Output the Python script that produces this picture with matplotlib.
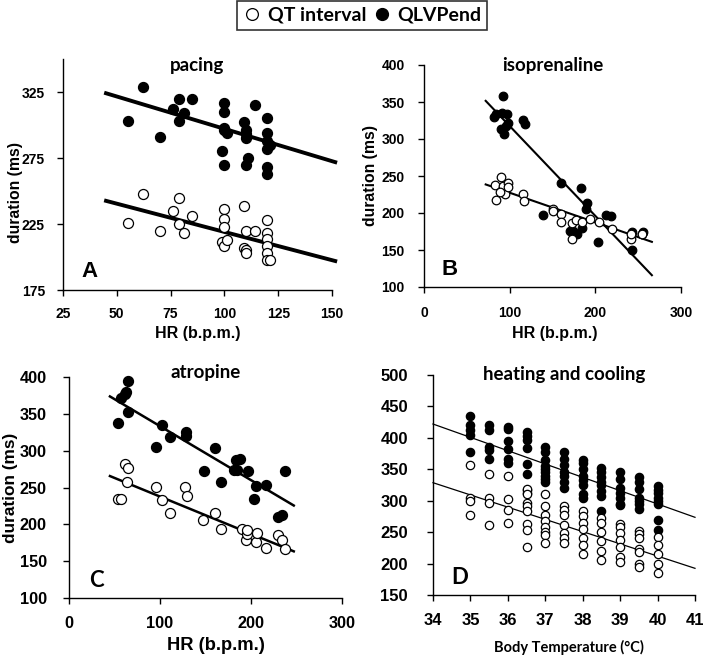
import matplotlib.pyplot as plt
from matplotlib.lines import Line2D
import numpy as np

# ------------------------------------------------------------------
# Data
# ------------------------------------------------------------------

# A: pacing
a_qlv_hr = [55, 62, 70, 76, 79, 81, 79, 85, 100, 100, 100, 101, 99, 100, 100,
            114, 109, 110, 110, 111, 110, 110, 120, 120, 120, 120, 121, 120, 120]
a_qlv_dur = [303, 329, 291, 312, 320, 309, 303, 320, 317, 310, 298, 294, 280, 270, 296,
             315, 302, 296, 290, 275, 270, 293, 305, 294, 288, 282, 285, 268, 263]
a_qt_hr = [55, 62, 70, 76, 79, 79, 81, 85, 100, 100, 100, 99, 100, 101,
           109, 110, 114, 109, 110, 110, 120, 120, 120, 120, 120, 120, 121]
a_qt_dur = [226, 248, 220, 235, 245, 225, 218, 231, 236, 229, 223, 211, 208, 213,
            239, 220, 220, 207, 205, 203, 228, 218, 214, 208, 203, 198, 198]

# B: isoprenaline
b_qlv_hr = [84, 82, 92, 91, 97, 90, 93, 96, 98, 115, 118,
            139, 160, 183, 190, 189, 171, 174, 179, 185, 203, 213, 218, 243, 243, 254, 256]
b_qlv_dur = [334, 330, 358, 335, 334, 314, 307, 318, 322, 325, 320,
             197, 240, 234, 214, 205, 175, 176, 171, 180, 161, 197, 196, 174, 150, 172, 174]
b_qt_hr = [83, 84, 90, 92, 95, 98, 98, 89, 115, 117, 150, 150, 160, 160,
           173, 173, 178, 185, 194, 204, 219, 242, 242, 254]
b_qt_dur = [238, 217, 249, 237, 225, 241, 235, 229, 226, 216, 206, 203, 198, 188,
            186, 165, 190, 188, 192, 188, 178, 165, 171, 171]

# C: atropine
c_qlv_hr = [54, 57, 61, 63, 65, 65, 102, 96, 111, 129, 129, 148, 160, 167,
            181, 183, 185, 188, 197, 203, 206, 216, 230, 234, 237]
c_qlv_dur = [338, 371, 377, 380, 395, 353, 335, 305, 319, 325, 320, 272, 303, 258,
             274, 288, 274, 289, 272, 235, 252, 253, 210, 212, 273]
c_qt_hr = [54, 57, 61, 65, 64, 96, 102, 111, 128, 130, 147, 160, 167,
           190, 194, 196, 196, 206, 207, 217, 230, 234, 237]
c_qt_dur = [235, 235, 282, 277, 258, 251, 233, 215, 251, 238, 206, 215, 193,
            193, 179, 187, 192, 176, 188, 168, 186, 179, 166]

# D: heating and cooling
d_qlv_temp = ([35] * 5 + [35.5] * 5 + [36] * 6 + [36.5] * 8 + [37] * 9 + [37.5] * 7
              + [38] * 8 + [38.5] * 8 + [39] * 7 + [39.5] * 7 + [40] * 8)
d_qlv_dur = ([434, 421, 412, 405, 377,
              421, 412, 385, 380, 367,
              417, 414, 395, 383, 366, 360,
              410, 403, 397, 384, 358, 342, 317, 313,
              385, 378, 365, 355, 350, 345, 340, 335, 330,
              378, 367, 357, 346, 340, 330, 320,
              365, 360, 350, 340, 333, 325, 310, 305,
              352, 345, 338, 330, 325, 315, 308, 284,
              345, 335, 320, 312, 305, 295, 293,
              337, 330, 318, 305, 300, 295, 287,
              323, 317, 312, 305, 300, 295, 270, 254])
d_qt_temp = ([35] * 4 + [35.5] * 4 + [36] * 4 + [36.5] * 8 + [37] * 8 + [37.5] * 7
             + [38] * 7 + [38.5] * 6 + [39] * 7 + [39.5] * 7 + [40] * 5)
d_qt_dur = ([357, 305, 300, 277,
             342, 304, 297, 262,
             340, 302, 285, 264,
             318, 310, 296, 292, 283, 263, 253, 227,
             310, 291, 277, 267, 258, 250, 245, 232,
             292, 285, 277, 262, 248, 240, 233,
             284, 275, 265, 255, 240, 230, 215,
             273, 265, 250, 236, 220, 205,
             263, 258, 248, 238, 227, 210, 203,
             252, 247, 240, 223, 219, 200, 195,
             242, 230, 216, 200, 185])

# regression lines: (slope, intercept) and x range
a_fit_qlv, a_fit_qt, a_fit_x = (-0.49, 346.1), (-0.428, 261.8), [45, 151.5]
b_fit_qlv, b_fit_qt, b_fit_x = (-1.2145, 439.0), (-0.40, 267.4), [72, 266]
c_fit_qlv, c_fit_qt, c_fit_x = (-0.733, 406.6), (-0.506, 288.3), [45, 247]
d_fit_qlv, d_fit_qt, d_fit_x = (-21.2, 1142.8), (-19.46, 990.3), [34, 41]

ARIAL = "Liberation Sans"
CALIBRI = "Lato"

panels = [
    dict(qlv=(a_qlv_hr, a_qlv_dur), qt=(a_qt_hr, a_qt_dur), fit=(a_fit_qlv, a_fit_qt, a_fit_x),
         lw=2.8, ms=52, title="pacing", title_y=0.97, letter="A", letter_font=ARIAL,
         xlim=(25, 150), xticks=np.arange(25, 151, 25),
         ylim=(175, 350), yticks=[175, 225, 275, 325],
         tick_fs=10, xpad=8, ypad=9,
         xlabel="HR (b.p.m.)", xlabel_font=ARIAL, xlabel_fs=11.5, xlabel_pos=(0.50, -0.19),
         ylabel_fs=11.3, ylabel_pos=(-0.178, 0.42),
         box=(63, 332, 59, 290)),
    dict(qlv=(b_qlv_hr, b_qlv_dur), qt=(b_qt_hr, b_qt_dur), fit=(b_fit_qlv, b_fit_qt, b_fit_x),
         lw=1.5, ms=38, title="isoprenaline", title_y=1.0, letter="B", letter_font=ARIAL,
         xlim=(0, 300), xticks=[0, 100, 200, 300],
         ylim=(100, 400), yticks=np.arange(100, 401, 50),
         tick_fs=10, xpad=10, ypad=10,
         xlabel="HR (b.p.m.)", xlabel_font=ARIAL, xlabel_fs=11.5, xlabel_pos=(0.51, -0.21),
         ylabel_fs=11.3, ylabel_pos=(-0.21, 0.5),
         box=(424, 681, 65, 287)),
    dict(qlv=(c_qlv_hr, c_qlv_dur), qt=(c_qt_hr, c_qt_dur), fit=(c_fit_qlv, c_fit_qt, c_fit_x),
         lw=1.8, ms=52, title="atropine", title_y=1.02, letter="C", letter_font=CALIBRI,
         xlim=(0, 300), xticks=[0, 100, 200, 300],
         ylim=(100, 400), yticks=np.arange(100, 401, 50),
         tick_fs=11.7, xpad=9, ypad=12,
         xlabel="HR (b.p.m.)", xlabel_font=ARIAL, xlabel_fs=13.2, xlabel_pos=(0.54, -0.215),
         ylabel_fs=12.4, ylabel_pos=(-0.216, 0.5),
         box=(69, 342, 377, 598)),
    dict(qlv=(d_qlv_temp, d_qlv_dur), qt=(d_qt_temp, d_qt_dur), fit=(d_fit_qlv, d_fit_qt, d_fit_x),
         lw=0.9, ms=36, title="heating and cooling", title_y=1.0, letter="D", letter_font=CALIBRI,
         xlim=(34, 41), xticks=np.arange(34, 42),
         ylim=(150, 500), yticks=np.arange(150, 501, 50),
         tick_fs=12, xpad=9, ypad=14,
         xlabel="Body Temperature (°C)", xlabel_font=CALIBRI, xlabel_fs=10.5,
         xlabel_pos=(0.52, -0.24),
         ylabel_fs=None, ylabel_pos=None,
         box=(433, 695, 375, 595)),
]

plt.rcParams["font.family"] = ARIAL
plt.rcParams["font.weight"] = "bold"

W, H = 705, 655
fig = plt.figure(figsize=(W / 100, H / 100), dpi=100)

for p in panels:
    l, r, t, b = p["box"]
    ax = fig.add_axes([l / W, 1 - b / H, (r - l) / W, (b - t) / H])
    for side in ("top", "right"):
        ax.spines[side].set_visible(False)
    for side in ("left", "bottom"):
        ax.spines[side].set_linewidth(1.0)

    fit_f, fit_o, xr = p["fit"]
    xr = np.array(xr, dtype=float)
    ax.plot(xr, fit_f[0] * xr + fit_f[1], color="black", lw=p["lw"], zorder=1, clip_on=False)
    ax.plot(xr, fit_o[0] * xr + fit_o[1], color="black", lw=p["lw"], zorder=1, clip_on=False)

    ax.scatter(*p["qlv"], s=p["ms"], facecolor="black", edgecolor="black", lw=0.9,
               zorder=3, clip_on=False)
    ax.scatter(*p["qt"], s=p["ms"], facecolor="white", edgecolor="black", lw=0.9,
               zorder=3, clip_on=False)

    ax.set_xlim(p["xlim"])
    ax.set_ylim(p["ylim"])
    ax.set_xticks(p["xticks"])
    ax.set_yticks(p["yticks"])
    ax.tick_params(direction="out", length=4, width=1, labelsize=p["tick_fs"])
    ax.tick_params(axis="x", pad=p["xpad"])
    ax.tick_params(axis="y", pad=p["ypad"])

    # axis titles placed in axes coordinates, centred on the spot
    ax.text(*p["xlabel_pos"], p["xlabel"], transform=ax.transAxes, ha="center", va="center",
            fontfamily=p["xlabel_font"], fontweight="bold", fontsize=p["xlabel_fs"])
    if p["ylabel_fs"]:
        ax.text(*p["ylabel_pos"], "duration (ms)", transform=ax.transAxes, rotation=90,
                ha="center", va="center", fontweight="bold", fontsize=p["ylabel_fs"])

    ax.text(0.5, p["title_y"], p["title"], transform=ax.transAxes,
            ha="center", va="center", fontfamily=CALIBRI, fontweight="bold", fontsize=13.5)
    ax.text(0.1, 0.08, p["letter"], transform=ax.transAxes, ha="center", va="center",
            fontfamily=p["letter_font"], fontweight="bold", fontsize=16)

handles = [
    Line2D([], [], ls="none", marker="o", markersize=8.5, markerfacecolor="white",
           markeredgecolor="black", markeredgewidth=0.9),
    Line2D([], [], ls="none", marker="o", markersize=8.5, markerfacecolor="black",
           markeredgecolor="black"),
]
leg = fig.legend(handles, ["QT interval", "QLVPend"], loc="upper center", ncol=2,
                 bbox_to_anchor=(362 / W, 1 - 1 / H), borderaxespad=0,
                 frameon=True, fancybox=False, edgecolor="black",
                 handlelength=1.0, handletextpad=0.3, columnspacing=0.3,
                 borderpad=0.3, prop=dict(family=CALIBRI, weight="bold", size=14))
leg.get_frame().set_linewidth(1.2)

fig.savefig("out.png", dpi=100)
